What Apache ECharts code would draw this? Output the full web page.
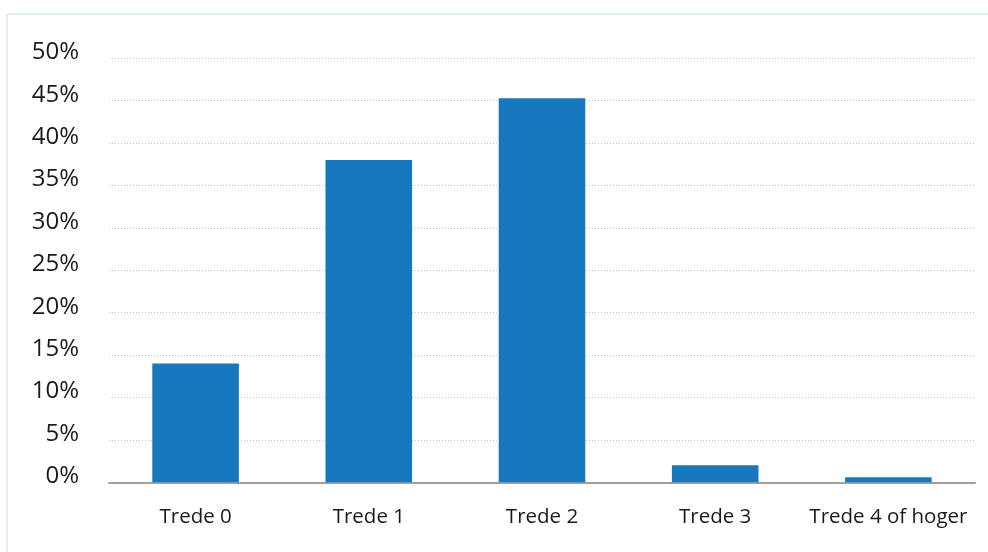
<!DOCTYPE html>
<html><head><meta charset="utf-8">
<script src="https://cdn.jsdelivr.net/npm/echarts@6/dist/echarts.min.js"></script>
<style>html,body{margin:0;padding:0;background:#fff;}
#frame{position:absolute;left:6px;top:13px;width:990px;height:550px;border:2px solid #def0fa;box-sizing:border-box;}
#c{position:absolute;left:0;top:0;width:988px;height:552px;}</style>
</head><body><div id="frame"></div><div id="c"></div>
<script>
const categories = ['Trede 0','Trede 1','Trede 2','Trede 3','Trede 4 of hoger'];
const values = [14, 38, 45.3, 2, 0.6];
const yTicks = [0,5,10,15,20,25,30,35,40,45,50];
const chart = echarts.init(document.getElementById('c'));
chart.setOption({
  animation:false,
  grid:{left:109,right:13,top:58.3,bottom:69.7,containLabel:false},
  xAxis:{type:'category',data:categories,
    axisLine:{lineStyle:{color:'#a0a0a0',width:2}},axisTick:{show:false},
    axisLabel:{interval:0,color:'#1a1a1a',fontSize:20.5,fontFamily:'Open Sans',margin:24}},
  yAxis:{type:'value',min:yTicks[0],max:yTicks[yTicks.length-1],interval:5,
    axisLine:{show:false},axisTick:{show:false},
    splitLine:{lineStyle:{color:'#c4c4c4',type:[1,2],width:1}},
    axisLabel:{color:'#1a1a1a',fontSize:24,fontFamily:'Open Sans',margin:30,verticalAlign:'bottom',lineHeight:12,formatter:v=>v+'%'}},
  series:[{type:'bar',data:values,barWidth:'50%',itemStyle:{color:'#1778be'}}]
});
</script></body></html>
